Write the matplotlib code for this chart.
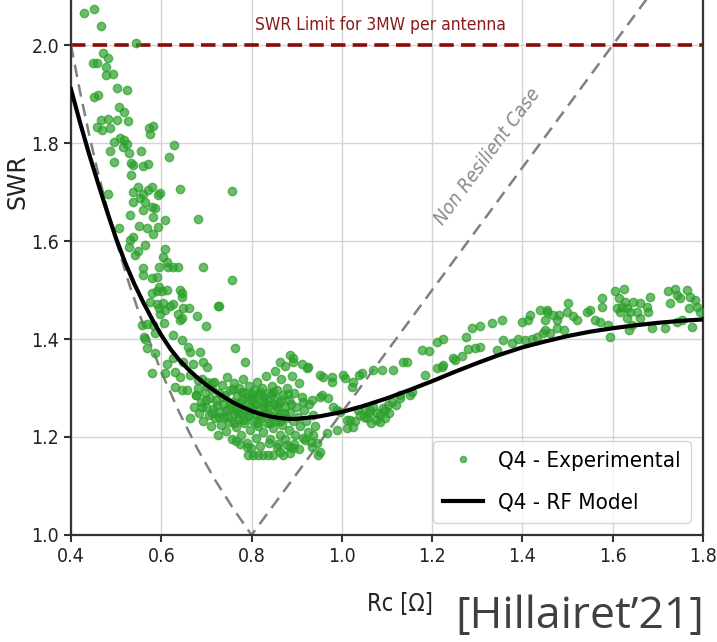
import matplotlib
matplotlib.use("Agg")
import matplotlib.pyplot as plt
from matplotlib import font_manager as fm

# RF model (black curve)
model_rc = [0.40, 0.42, 0.44, 0.46, 0.48, 0.50, 0.52, 0.54, 0.56, 0.58,
            0.60, 0.62, 0.64, 0.66, 0.68, 0.70, 0.72, 0.74, 0.76, 0.78,
            0.80, 0.82, 0.84, 0.86, 0.88, 0.90, 0.95, 1.00, 1.05, 1.10,
            1.15, 1.20, 1.25, 1.30, 1.35, 1.40, 1.45, 1.50, 1.55, 1.60,
            1.65, 1.70, 1.75, 1.80]
model_swr = [1.910, 1.842, 1.778, 1.718, 1.660, 1.605, 1.556, 1.513, 1.475, 1.440,
             1.408, 1.380, 1.357, 1.338, 1.321, 1.306, 1.293, 1.281, 1.270, 1.261,
             1.253, 1.247, 1.242, 1.239, 1.237, 1.237, 1.242, 1.251, 1.264, 1.279,
             1.296, 1.314, 1.333, 1.351, 1.368, 1.383, 1.395, 1.406, 1.415, 1.422,
             1.428, 1.433, 1.437, 1.440]

# non resilient case (grey dashed V)
nr_rc = [0.40, 0.42, 0.44, 0.46, 0.48, 0.50, 0.53, 0.56, 0.60, 0.64,
         0.68, 0.72, 0.76, 0.80, 1.00, 1.20, 1.40, 1.60, 1.70]
nr_swr = [2.000, 1.905, 1.818, 1.739, 1.667, 1.600, 1.509, 1.429, 1.333, 1.250,
          1.176, 1.111, 1.053, 1.000, 1.250, 1.500, 1.750, 2.000, 2.125]

# Q4 experimental points
exp_rc = [
    # steep left branch
    0.428, 0.450, 0.466, 0.544, 0.472, 0.481, 0.448, 0.458, 0.478, 0.478,
    0.494, 0.503, 0.524, 0.452, 0.459, 0.507, 0.518, 0.466, 0.483, 0.502,
    0.527, 0.458, 0.468, 0.487, 0.573, 0.581, 0.576, 0.496, 0.509, 0.518,
    0.524, 0.515, 0.487, 0.496, 0.529, 0.533, 0.554, 0.628, 0.618, 0.559,
    0.571, 0.757, 0.757, 0.681, 0.642, 0.693, 0.728, 0.538, 0.534,
    0.483, 0.537, 0.549, 0.560, 0.571, 0.579, 0.538, 0.553, 0.564, 0.579,
    0.593, 0.597, 0.586, 0.559, 0.531, 0.582, 0.608, 0.551, 0.568, 0.593,
    0.582, 0.507, 0.531, 0.538, 0.529, 0.549, 0.542, 0.564, 0.608, 0.603,
    0.612, 0.596, 0.616, 0.625, 0.638, 0.560, 0.559, 0.579, 0.590, 0.596,
    0.590, 0.579, 0.601, 0.613, 0.641, 0.647, 0.645, 0.575, 0.590, 0.604,
    0.596, 0.608, 0.619, 0.627, 0.649, 0.662, 0.638, 0.645, 0.680, 0.726,
    0.557, 0.569, 0.606, 0.699, 0.597,
    0.582, 0.641, 0.564, 0.586, 0.627, 0.645, 0.660, 0.664, 0.686, 0.568,
    0.586, 0.612, 0.627, 0.649, 0.671, 0.693, 0.701, 0.763, 0.785, 0.579,
    0.608, 0.630, 0.641, 0.664, 0.682, 0.701, 0.712, 0.630, 0.656, 0.678,
    0.690, 0.664, 0.645, 0.562,
    # dense cluster around the minimum
    0.672, 0.676, 0.681, 0.684, 0.688, 0.690, 0.693, 0.696, 0.699, 0.702,
    0.705, 0.707, 0.710, 0.712, 0.715, 0.717, 0.720, 0.722, 0.725, 0.727,
    0.730, 0.732, 0.734, 0.737, 0.739, 0.742, 0.744, 0.746, 0.749, 0.751,
    0.753, 0.756, 0.758, 0.760, 0.762, 0.765, 0.767, 0.769, 0.771, 0.773,
    0.776, 0.778, 0.780, 0.782, 0.784, 0.786, 0.788, 0.790, 0.792, 0.794,
    0.797, 0.799, 0.801, 0.803, 0.805, 0.807, 0.809, 0.811, 0.813, 0.815,
    0.818, 0.820, 0.822, 0.824, 0.826, 0.828, 0.830, 0.832, 0.834, 0.836,
    0.839, 0.841, 0.843, 0.845, 0.847, 0.849, 0.851, 0.853, 0.855, 0.857,
    0.860, 0.862, 0.864, 0.866, 0.868, 0.870, 0.873, 0.875, 0.877, 0.879,
    0.882, 0.884, 0.886, 0.889, 0.891, 0.894, 0.897, 0.899, 0.902, 0.905,
    0.908, 0.911, 0.914, 0.917, 0.920, 0.924, 0.928, 0.932, 0.936, 0.940,
    0.700, 0.712, 0.724, 0.736, 0.748, 0.758, 0.766, 0.774, 0.781, 0.789,
    0.796, 0.804, 0.812, 0.819, 0.827, 0.835, 0.842, 0.850, 0.858, 0.866,
    0.744, 0.762, 0.778, 0.795, 0.810, 0.826, 0.840, 0.856, 0.872, 0.888,
    0.728, 0.752, 0.770, 0.786, 0.802, 0.818, 0.833, 0.848, 0.863, 0.880,
    0.765, 0.775, 0.798, 0.818, 0.838, 0.858, 0.875, 0.895, 0.905,
    # around Rc = 0.9 - 1.15
    0.885, 0.892, 0.911, 0.926, 0.952, 0.978, 1.003, 1.025,
    0.915, 0.933, 0.955, 0.970, 0.981, 0.996, 1.011, 1.025, 1.011,
    0.948, 0.933, 0.918, 0.937,
    0.793, 0.804, 0.815, 0.826, 0.837, 0.848, 0.870, 0.885, 0.892, 0.789,
    0.856, 0.878,
    0.863, 0.892, 0.922, 0.959, 0.978, 1.007, 1.022, 1.037, 1.044, 1.070,
    1.088, 1.114, 1.136, 1.144,
    0.952, 0.989, 1.018, 1.036, 1.051, 1.062, 1.077, 1.092, 1.103, 1.110,
    1.121, 1.129, 1.096, 1.085, 1.048,
    0.989, 0.966, 0.944, 0.952, 0.885, 0.863,
    1.040, 1.055, 1.065, 1.075, 1.085, 1.095, 1.105, 1.060, 1.030, 1.070,
    # rising right branch
    1.177, 1.194, 1.210, 1.225, 1.275, 1.288, 1.306, 1.332, 1.354, 1.398,
    1.413, 1.417, 1.439, 1.454, 1.450,
    1.184, 1.210, 1.221, 1.225, 1.247, 1.251, 1.266, 1.280, 1.295, 1.306,
    1.343, 1.358, 1.376, 1.391, 1.406, 1.421, 1.432, 1.446, 1.155, 1.151,
    1.129,
    1.454, 1.468, 1.480, 1.476, 1.498, 1.502, 1.513, 1.520, 1.542, 1.550,
    1.561, 1.572, 1.576, 1.576, 1.590, 1.594, 1.450, 1.461, 1.476, 1.491,
    1.605, 1.624, 1.613, 1.627, 1.620, 1.631, 1.638, 1.616, 1.609, 1.646,
    1.661, 1.675, 1.683, 1.653, 1.661, 1.679, 1.631, 1.642, 1.635, 1.686,
    1.716, 1.723, 1.738, 1.742, 1.727, 1.749, 1.764, 1.771, 1.782, 1.786,
    1.768, 1.793, 1.775, 1.742, 1.753,
]
exp_swr = [
    2.066, 2.073, 2.039, 2.005, 1.983, 1.973, 1.963, 1.964, 1.956, 1.939,
    1.941, 1.912, 1.908, 1.894, 1.899, 1.874, 1.864, 1.848, 1.850, 1.847,
    1.845, 1.832, 1.827, 1.831, 1.831, 1.835, 1.818, 1.803, 1.810, 1.806,
    1.799, 1.792, 1.784, 1.762, 1.779, 1.759, 1.784, 1.796, 1.772, 1.754,
    1.757, 1.703, 1.520, 1.645, 1.706, 1.548, 1.468, 1.755, 1.735,
    1.697, 1.701, 1.710, 1.697, 1.704, 1.711, 1.680, 1.687, 1.679, 1.670,
    1.694, 1.699, 1.667, 1.663, 1.653, 1.650, 1.643, 1.631, 1.626, 1.629,
    1.614, 1.627, 1.602, 1.608, 1.587, 1.580, 1.571, 1.592, 1.583, 1.568,
    1.558, 1.548, 1.546, 1.546, 1.546, 1.544, 1.531, 1.524, 1.527, 1.506,
    1.497, 1.493, 1.497, 1.500, 1.500, 1.493, 1.486, 1.476, 1.471, 1.473,
    1.463, 1.459, 1.467, 1.471, 1.463, 1.463, 1.452, 1.442, 1.447, 1.467,
    1.429, 1.431, 1.432, 1.427, 1.451,
    1.429, 1.439, 1.401, 1.412, 1.408, 1.398, 1.384, 1.374, 1.374, 1.381,
    1.371, 1.350, 1.361, 1.354, 1.350, 1.354, 1.343, 1.381, 1.354, 1.330,
    1.330, 1.333, 1.323, 1.327, 1.316, 1.313, 1.310, 1.303, 1.296, 1.286,
    1.262, 1.238, 1.296, 1.405,
    1.262, 1.285, 1.300, 1.248, 1.272, 1.318, 1.232, 1.290, 1.262, 1.305,
    1.245, 1.280, 1.222, 1.297, 1.258, 1.312, 1.238, 1.275, 1.205, 1.290,
    1.252, 1.225, 1.306, 1.268, 1.240, 1.285, 1.212, 1.322, 1.258, 1.230,
    1.295, 1.195, 1.272, 1.246, 1.310, 1.220, 1.284, 1.262, 1.236, 1.300,
    1.205, 1.275, 1.250, 1.318, 1.228, 1.290, 1.265, 1.188, 1.242, 1.305,
    1.215, 1.280, 1.255, 1.232, 1.296, 1.270, 1.198, 1.245, 1.312, 1.222,
    1.285, 1.260, 1.238, 1.300, 1.210, 1.274, 1.250, 1.325, 1.228, 1.290,
    1.265, 1.195, 1.242, 1.305, 1.218, 1.280, 1.256, 1.335, 1.232, 1.296,
    1.270, 1.205, 1.246, 1.318, 1.225, 1.285, 1.262, 1.345, 1.238, 1.300,
    1.215, 1.275, 1.252, 1.325, 1.232, 1.290, 1.205, 1.262, 1.240, 1.310,
    1.222, 1.282, 1.198, 1.255, 1.232, 1.210, 1.268, 1.190, 1.245, 1.222,
    1.275, 1.248, 1.265, 1.282, 1.240, 1.298, 1.255, 1.270, 1.235, 1.282,
    1.262, 1.278, 1.228, 1.292, 1.262, 1.248, 1.285, 1.268, 1.240, 1.275,
    1.255, 1.228, 1.292, 1.245, 1.268, 1.282, 1.228, 1.262, 1.250, 1.268,
    1.240, 1.268, 1.248, 1.255, 1.288, 1.242, 1.270, 1.292, 1.232, 1.288,
    1.192, 1.185, 1.178, 1.182, 1.188, 1.185, 1.195, 1.185, 1.175,
    1.367, 1.361, 1.350, 1.343, 1.327, 1.323, 1.327, 1.313,
    1.272, 1.276, 1.286, 1.279, 1.262, 1.252, 1.235, 1.221, 1.218,
    1.163, 1.180, 1.194, 1.204,
    1.163, 1.163, 1.163, 1.163, 1.163, 1.163, 1.163, 1.167, 1.177, 1.180,
    1.180, 1.184,
    1.354, 1.354, 1.340, 1.323, 1.313, 1.320, 1.303, 1.327, 1.330, 1.337,
    1.337, 1.337, 1.354, 1.354,
    1.282, 1.255, 1.235, 1.255, 1.259, 1.255, 1.248, 1.259, 1.265, 1.272,
    1.265, 1.279, 1.238, 1.231, 1.241,
    1.214, 1.208, 1.187, 1.170, 1.180, 1.170,
    1.245, 1.238, 1.228, 1.235, 1.245, 1.255, 1.250, 1.250, 1.232, 1.262,
    1.378, 1.376, 1.394, 1.401, 1.405, 1.422, 1.427, 1.432, 1.439, 1.435,
    1.439, 1.449, 1.459, 1.459, 1.439,
    1.327, 1.340, 1.343, 1.347, 1.361, 1.357, 1.365, 1.379, 1.381, 1.383,
    1.378, 1.398, 1.391, 1.401, 1.398, 1.401, 1.405, 1.412, 1.292, 1.286,
    1.286,
    1.456, 1.449, 1.449, 1.439, 1.456, 1.473, 1.446, 1.439, 1.456, 1.459,
    1.439, 1.435, 1.466, 1.483, 1.429, 1.405, 1.418, 1.412, 1.422, 1.418,
    1.497, 1.503, 1.483, 1.476, 1.466, 1.463, 1.456, 1.456, 1.463, 1.476,
    1.473, 1.466, 1.486, 1.456, 1.442, 1.456, 1.442, 1.429, 1.418, 1.422,
    1.422, 1.497, 1.503, 1.490, 1.473, 1.483, 1.500, 1.486, 1.480, 1.466,
    1.463, 1.456, 1.425, 1.435, 1.439,
]

swr_limit = 2.0
x_ticks = [0.4, 0.6, 0.8, 1.0, 1.2, 1.4, 1.6, 1.8]
y_ticks = [1.0, 1.2, 1.4, 1.6, 1.8, 2.0]

# the original text looks horizontally squeezed: use a narrow face when there is one
font_names = {f.name for f in fm.fontManager.ttflist}
narrow = {}
if "Liberation Sans Narrow" in font_names:
    narrow = {"family": ["Liberation Sans Narrow", "DejaVu Sans"]}
elif any(f.name == "DejaVu Sans" and f.stretch == "condensed" for f in fm.fontManager.ttflist):
    narrow = {"family": ["DejaVu Sans"], "stretch": "condensed"}

fig = plt.figure(figsize=(7.17, 6.42), dpi=100)
ax = fig.add_axes([0.099, 0.1667, 0.8815, 0.8333])

ax.grid(True, color="#d4d4d4", linewidth=1.0, zorder=0)
ax.axhline(swr_limit, color="#8b0a0a", linewidth=2.6, linestyle=(0, (4, 2)), zorder=2)
ax.plot(nr_rc, nr_swr, color="#808080", linewidth=1.8, linestyle=(0, (5, 3)), zorder=2)
ax.plot(exp_rc, exp_swr, "o", color="#2ca02c", alpha=0.7, markersize=6,
        markeredgewidth=1.0, zorder=3, label="Q4 - Experimental")
ax.plot(model_rc, model_swr, color="black", linewidth=3, zorder=4,
        solid_joinstyle="round", label="Q4 - RF Model")

ax.text(1.085, 2.04, "SWR Limit for 3MW per antenna", color="#8b1a1a",
        fontsize=12.5, ha="center", va="center", **narrow)
ax.text(1.322, 1.772, "Non Resilient Case", color="#8a8a8a", fontsize=14,
        style="italic", rotation=53.5, ha="center", va="center",
        rotation_mode="anchor", **narrow)

ax.set_xlim(0.4, 1.8)
ax.set_ylim(1.0, 2.092)
ax.set_xticks(x_ticks)
ax.set_yticks(y_ticks)
ax.set_xticklabels([f"{v:.1f}" for v in x_ticks], **narrow)
ax.set_yticklabels([f"{v:.1f}" for v in y_ticks], **narrow)
ax.tick_params(labelsize=14, length=5, width=1.5, color="#333333", labelcolor="#222222")
ax.spines["top"].set_visible(False)
for s in ["left", "bottom", "right"]:
    ax.spines[s].set_linewidth(1.6)
    ax.spines[s].set_color("#333333")

ax.set_xlabel("Rc [Ω]", fontsize=17, color="#222222", **narrow)
ax.xaxis.set_label_coords(0.52, -0.105)
ax.set_ylabel("SWR", fontsize=17, color="#222222")
ax.yaxis.set_label_coords(-0.066, 0.66)

leg_font = {"size": 16}
leg_font.update(narrow)
leg = ax.legend(loc="lower right", prop=leg_font, frameon=True, borderaxespad=0.55,
                handlelength=1.8, handletextpad=0.7, markerscale=0.75,
                borderpad=0.45, labelspacing=1.0)
leg.get_frame().set_edgecolor("#cccccc")

fig.text(0.809, 0.04, "[Hillairet\u201921]", fontsize=32, color="#404040",
         family=["Open Sans", "DejaVu Sans"], ha="center", va="center")

fig.savefig("out.png", dpi=100)
